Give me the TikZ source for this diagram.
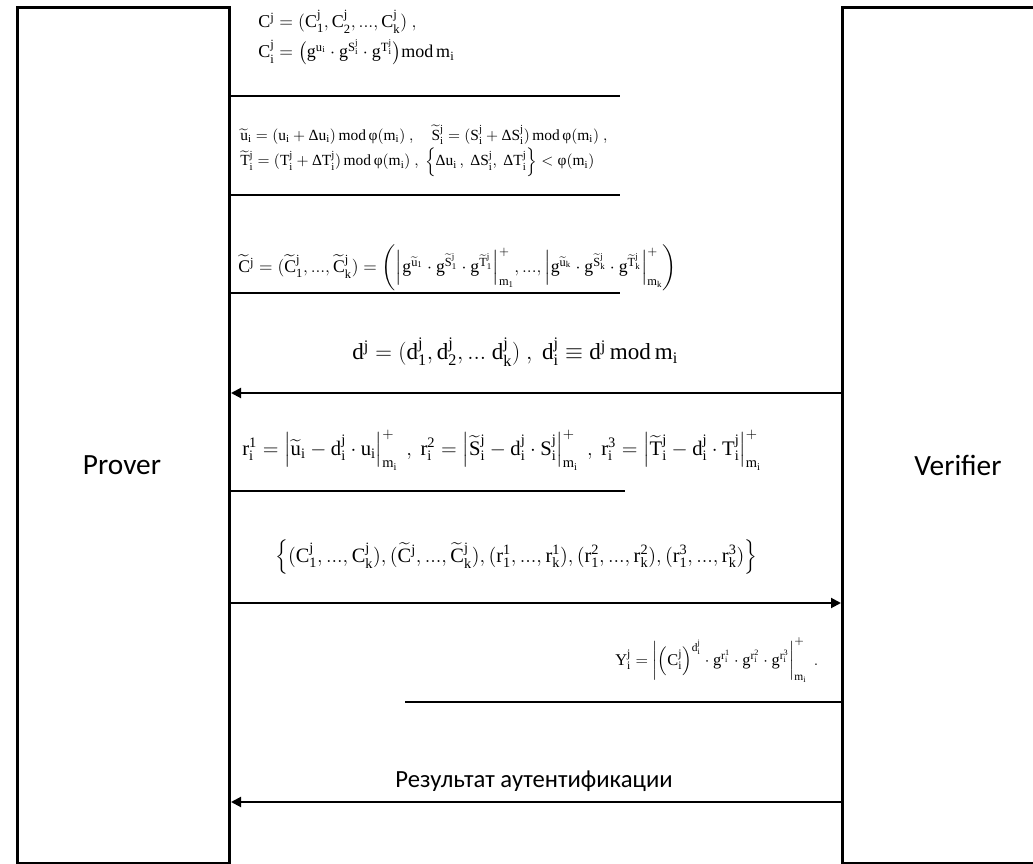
\documentclass[tikz,border=0pt]{standalone}
\usepackage{fix-cm}
\usepackage{amsmath}
\usepackage{fontspec}
\setmainfont{Liberation Serif}
\setmathrm{Liberation Serif}
\newfontfamily\calib{Carlito}
\usetikzlibrary{arrows.meta}
\newcommand\M[1]{$\mathrm{#1}$}
\tikzset{
  actor/.style={draw, line width=2.25pt, inner sep=0pt, anchor=north west},
  actorlabel/.style={font=\calib\fontsize{22}{24}\selectfont, inner sep=0pt},
  rule/.style={line width=1.5pt},
  msg/.style={line width=1.5pt, -{Triangle[length=7.5pt,width=7.5pt]}},
  fml/.style={inner sep=0pt, anchor=west, align=left},
}
\begin{document}
\begin{tikzpicture}[x=0.75pt,y=-0.75pt]
\useasboundingbox (0,0) rectangle (1033,864);
\clip (0,0) rectangle (1033,864);
% actors
\node[actor, minimum width=159pt, minimum height=642pt] (prover) at (16,6) {};
\node[actor, minimum width=165pt, minimum height=642pt] (verifier) at (841,6) {};
\node[actorlabel] (pl) at (122,465) {Prover};
\node[actorlabel] (vl) at (958,465) {Verifier};
% formulas
\node[fml, font=\fontsize{13.5}{20}\selectfont] (f1a) at (258,22) {\M{C^j = (C_1^j, C_2^j, ..., C_k^j)\ ,}};
\node[fml, font=\fontsize{13.5}{20}\selectfont] (f1b) at (258,52) {\M{C_i^j = \bigl(g^{u_i}\cdot g^{S_i^j}\cdot g^{T_i^j}\bigr)mod\,m_i}};
\node[fml, font=\fontsize{11.6}{16}\selectfont] (f2a) at (240,135) {\M{\widetilde{u}_i = (u_i + \mbox{Δ}u_i)\,mod\,\mbox{φ}(m_i)\ ,\quad \widetilde{S}_i^j = (S_i^j + \mbox{Δ}S_i^j)\,mod\,\mbox{φ}(m_i)\ ,}};
\node[fml, font=\fontsize{11.6}{16}\selectfont] (f2b) at (240,162) {\M{\widetilde{T}_i^j = (T_i^j + \mbox{Δ}T_i^j)\,mod\,\mbox{φ}(m_i)\ ,\ \left\{\mbox{Δ}u_i\,,\ \mbox{Δ}S_i^j,\ \mbox{Δ}T_i^j\right\} < \mbox{φ}(m_i)}};
\node[fml, font=\fontsize{13.3}{20}\selectfont] (f3) at (238,268) {\M{\widetilde{C}^j = (\widetilde{C}_1^j, ..., \widetilde{C}_k^j) = \left(\left|g^{\widetilde{u}_1}\cdot g^{\widetilde{S}_1^j}\cdot g^{\widetilde{T}_1^j}\right|_{m_1}^{+}\!, ..., \left|g^{\widetilde{u}_k}\cdot g^{\widetilde{S}_k^j}\cdot g^{\widetilde{T}_k^j}\right|_{m_k}^{+}\right)}};
\node[fml, font=\fontsize{17.3}{20}\selectfont] (fd) at (352,352) {\M{d^j = (d_1^j, d_2^j,...\ d_k^j)\ ,\ d_i^j \equiv d^j\,mod\,m_i}};
\node[fml, font=\fontsize{15.5}{20}\selectfont] (fr) at (242,450) {\M{r_i^1 = \left|\widetilde{u}_i - d_i^j\cdot u_i\right|_{m_i}^{+}\ ,\ r_i^2 = \left|\widetilde{S}_i^j - d_i^j\cdot S_i^j\right|_{m_i}^{+}\ ,\ r_i^3 = \left|\widetilde{T}_i^j - d_i^j\cdot T_i^j\right|_{m_i}^{+}}};
\node[fml, font=\fontsize{15.3}{20}\selectfont] (fs) at (275,557) {\M{\left\{(C_1^j, ..., C_k^j), (\widetilde{C}^j, ..., \widetilde{C}_k^j), (r_1^1, ..., r_k^1), (r_1^2, ..., r_k^2), (r_1^3, ..., r_k^3)\right\}}};
\node[fml, font=\fontsize{12.3}{20}\selectfont] (fy) at (615,660) {\M{Y_i^j = \left|\left(C_i^j\right)^{d_i^j}\cdot g^{r_i^1}\cdot g^{r_i^2}\cdot g^{r_i^3}\right|_{m_i}^{+}\ .}};
\node[inner sep=0pt, font=\calib\fontsize{18.5}{20}\selectfont] (res) at (534,781) {Результат аутентификации};
% rule ends
\coordinate (e1) at (620,96);
\coordinate (e2) at (620,195);
\coordinate (e3) at (620,293);
\coordinate (a1) at (0,393);
\coordinate (e4) at (625,491);
\coordinate (a2) at (0,603);
\coordinate (e5) at (405,702);
\coordinate (a3) at (0,802);
% connectors
\draw[rule] (prover.east |- e1) -- (e1);
\draw[rule] (prover.east |- e2) -- (e2);
\draw[rule] (prover.east |- e3) -- (e3);
\draw[msg] (verifier.west |- a1) -- (prover.east |- a1);
\draw[rule] (prover.east |- e4) -- (e4);
\draw[msg] (prover.east |- a2) -- (verifier.west |- a2);
\draw[rule] (e5) -- (verifier.west |- e5);
\draw[msg] (verifier.west |- a3) -- (prover.east |- a3);
\end{tikzpicture}
\end{document}
